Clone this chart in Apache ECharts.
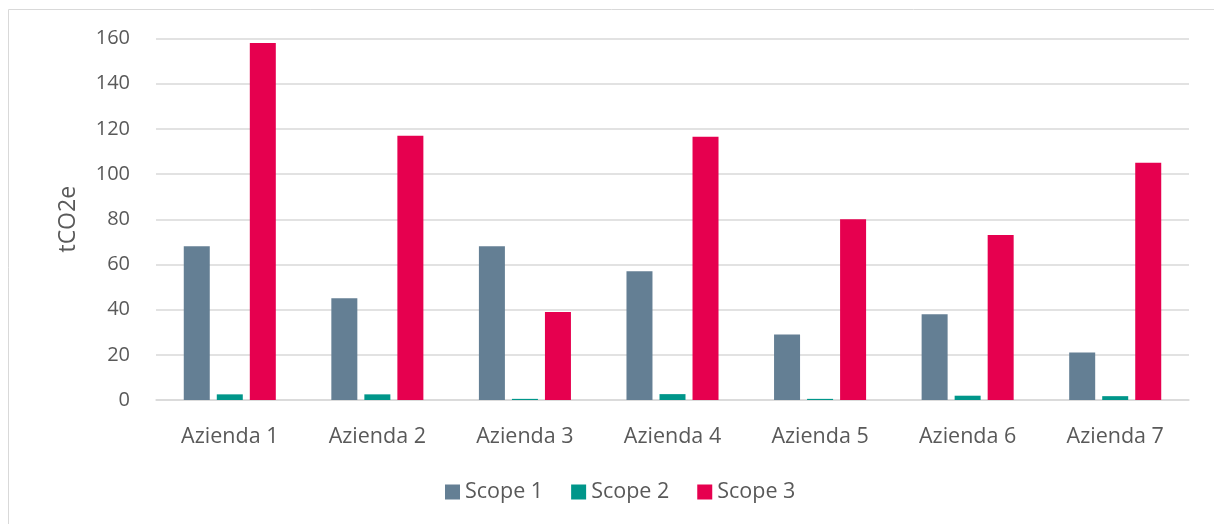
<!DOCTYPE html>
<html>
<head>
<meta charset="utf-8">
<script src="https://cdn.jsdelivr.net/npm/echarts@6/dist/echarts.min.js"></script>
<style>
html,body{margin:0;padding:0;background:#fff;}
#chart{width:1214px;height:524px;}
</style>
</head>
<body>
<div id="chart"></div>
<script>
const categories = ['Azienda 1','Azienda 2','Azienda 3','Azienda 4','Azienda 5','Azienda 6','Azienda 7'];
const scope1 = [68, 45, 68, 57, 29, 38, 21];
const scope2 = [2.5, 2.5, 0.5, 2.6, 0.5, 1.9, 1.7];
const scope3 = [158, 117, 39, 116.5, 80, 73, 105];
const seriesNames = ['Scope 1','Scope 2','Scope 3'];
const yTicks = {min: 0, max: 160, interval: 20};

const FONT = 'Open Sans';
const TXT = '#595959';
const chart = echarts.init(document.getElementById('chart'), null, {renderer:'canvas'});
const mk = (name, data, color) => ({
  name, type:'bar', data, barWidth:26, barGap:'27%',
  itemStyle:{color}, emphasis:{disabled:true}
});
chart.setOption({
  animation:false,
  textStyle:{fontFamily:FONT},
  graphic:[{type:'rect', shape:{x:8.5,y:9.5,width:1220,height:530}, style:{fill:'none',stroke:'#d9d9d9',lineWidth:1}, silent:true}],
  grid:{left:156, right:25, top:38.5, bottom:124, containLabel:false},
  legend:{
    data:seriesNames, top:476, left:440, itemWidth:15, itemHeight:15, itemGap:28,
    icon:'rect', textStyle:{color:TXT, fontSize:21.5, fontFamily:FONT}
  },
  xAxis:{
    type:'category', data:categories,
    axisLine:{lineStyle:{color:'#d9d9d9', width:1.5}},
    axisTick:{show:false},
    axisLabel:{color:TXT, fontSize:21.5, margin:26, fontFamily:FONT}
  },
  yAxis:{
    type:'value', min:yTicks.min, max:yTicks.max, interval:yTicks.interval,
    name:'tCO2e', nameLocation:'middle', nameGap:76, nameRotate:90,
    nameTextStyle:{color:TXT, fontSize:23, fontFamily:FONT},
    axisLine:{show:false}, axisTick:{show:false},
    axisLabel:{color:TXT, fontSize:20, margin:26, fontFamily:FONT},
    splitLine:{lineStyle:{color:'#d9d9d9', width:1.5}}
  },
  series:[
    mk(seriesNames[0], scope1, '#647F94'),
    mk(seriesNames[1], scope2, '#00968A'),
    mk(seriesNames[2], scope3, '#E6004F')
  ]
});
</script>
</body>
</html>
